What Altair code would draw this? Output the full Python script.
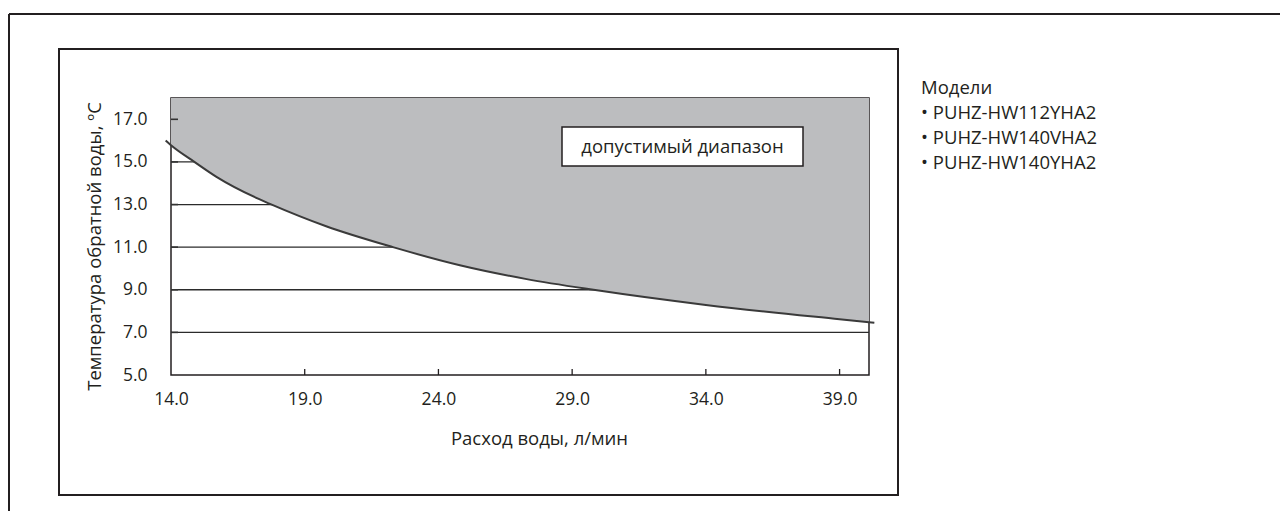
import altair as alt
import pandas as pd

# ---- data ----
flow = [13.8, 14.0, 14.9, 15.7, 17.3, 17.7, 19.8, 22.3, 24.8, 27.3, 29.8, 34.0, 39.0, 40.1, 40.3]
temp = [16.0, 15.78, 14.98, 14.3, 13.25, 13.03, 11.98, 11.0, 10.15, 9.5, 9.0, 8.29, 7.62, 7.48, 7.455]
x_ticks = [14.0, 19.0, 24.0, 29.0, 34.0, 39.0]
y_ticks = [5.0, 7.0, 9.0, 11.0, 13.0, 15.0, 17.0]
grid_values = [7.0, 9.0, 11.0, 13.0, 15.0]
x_domain = [14.0, 40.1]
y_domain = [5.0, 18.0]
x_title = "Расход воды, л/мин"
y_title = "Температура обратной воды, ºC"
zone_label = "допустимый диапазон"
model_lines = ["Модели", "• PUHZ-HW112YHA2", "• PUHZ-HW140VHA2", "• PUHZ-HW140YHA2"]

# ---- layout / style ----
W, H = 698, 277
FONT = "Open Sans"
FS_TICK = 17.5
FS_TEXT = 18.5
DARK = "#231f20"
GRAY = "#bcbdbf"

curve = pd.DataFrame({"flow": flow, "temp": temp})
area_df = curve[(curve["flow"] >= x_domain[0]) & (curve["flow"] <= x_domain[1])]
one = pd.DataFrame({"k": [0]})

xs = alt.Scale(domain=x_domain, nice=False, zero=False)
ys = alt.Scale(domain=y_domain, nice=False, zero=False)

AX = alt.Axis(
    values=x_ticks, format=".1f", ticks=False, tickSize=0, domain=False, grid=False, labelFlush=False,
    labelFont=FONT, labelFontSize=FS_TICK, labelColor=DARK, labelPadding=15,
    title=x_title, titleFont=FONT, titleFontSize=FS_TEXT, titleFontWeight="normal", titleColor=DARK,
    titleX=368, titleY=69, titleAlign="center", titleBaseline="alphabetic")
AY = alt.Axis(
    values=y_ticks, format=".1f", ticks=False, tickSize=0, domain=False, grid=False, labelFlush=False,
    labelFont=FONT, labelFontSize=FS_TICK, labelColor=DARK, labelPadding=24,
    title=y_title, titleFont=FONT, titleFontSize=FS_TEXT, titleFontWeight="normal", titleColor=DARK,
    titleX=-71, titleY=148, titleAngle=270, titleAlign="center", titleBaseline="alphabetic")


def X():
    return alt.X("flow:Q", scale=xs, axis=AX)


def Y():
    return alt.Y("temp:Q", scale=ys, axis=AY)


# outer frame (top and left edges only)
outer_top = alt.Chart(one).mark_rule(color=DARK, strokeWidth=2).encode(
    x=alt.value(-162), x2=alt.value(1109), y=alt.value(-84))
outer_left = alt.Chart(one).mark_rule(color=DARK, strokeWidth=2).encode(
    x=alt.value(-162), y=alt.value(-84), y2=alt.value(413))

# inner frame
inner = alt.Chart(one).mark_rect(fill="white", fillOpacity=0, stroke=DARK, strokeWidth=2).encode(
    x=alt.value(-112), x2=alt.value(727), y=alt.value(-49), y2=alt.value(397))

# gridlines (drawn under the shaded region as in the reference)
grid = alt.Chart(pd.DataFrame({"temp": grid_values})).mark_rule(
    color="#2b2b2b", strokeWidth=1.3).encode(y=Y(), x=alt.value(0), x2=alt.value(W))

# shaded permissible region
area = alt.Chart(area_df).mark_area(color=GRAY, interpolate="monotone").encode(
    x=X(), y=Y(), y2=alt.datum(y_domain[1]))

# inner ticks
ytick = alt.Chart(pd.DataFrame({"temp": y_ticks[1:]})).mark_rule(color="#333333", strokeWidth=1.6).encode(
    y=Y(), x=alt.value(0), x2=alt.value(7))
xtick = alt.Chart(pd.DataFrame({"flow": x_ticks[1:]})).mark_rule(color=DARK, strokeWidth=1.3).encode(
    x=X(), y=alt.value(H), y2=alt.value(H - 6))

# boundary curve
line = alt.Chart(curve).mark_line(color="#3a3a3a", strokeWidth=2, interpolate="monotone").encode(
    x=X(), y=Y())

# label box
box = alt.Chart(one).mark_rect(fill="white", stroke=DARK, strokeWidth=1.5).encode(
    x=alt.value(391), x2=alt.value(632), y=alt.value(29), y2=alt.value(68))
box_text = alt.Chart(pd.DataFrame({"t": [zone_label]})).mark_text(
    font=FONT, fontSize=FS_TEXT, color=DARK, align="center", baseline="middle").encode(
    text="t:N", x=alt.value(511.5), y=alt.value(48.5))

layers = [grid, area, outer_top, outer_left, inner, ytick, xtick, line, box, box_text]

# models list on the right
for i, s in enumerate(model_lines):
    layers.append(alt.Chart(pd.DataFrame({"t": [s]})).mark_text(
        font=FONT, fontSize=FS_TEXT, color=DARK, align="left", baseline="alphabetic").encode(
        text="t:N", x=alt.value(750), y=alt.value(-4 + 25 * i)))

chart = alt.layer(*layers).properties(
    width=W, height=H,
    background="white",
    autosize=alt.AutoSizeParams(type="none"),
    padding={"left": 163, "top": 90, "right": 411, "bottom": 136},
).configure_view(stroke=DARK, strokeWidth=1.5)

chart.save("out.html", embed_options={"renderer": "svg", "actions": False})
